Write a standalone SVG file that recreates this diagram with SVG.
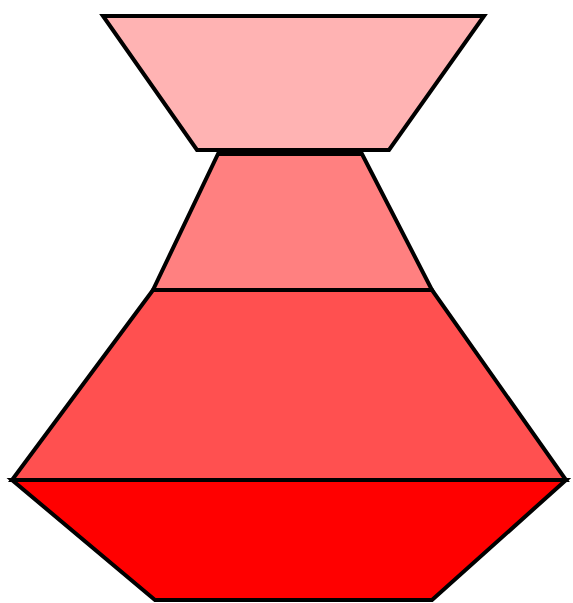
<svg xmlns="http://www.w3.org/2000/svg" width="573" height="603" viewBox="0 0 573 603">
<style>
.s{stroke:#000;stroke-width:4;stroke-linejoin:miter}
</style>
<rect width="573" height="603" fill="#fff"/>
<g id="layer1"><polygon class="s" fill="#ffb3b3" points="103,16 484,16 389,150 197,150"/></g>
<g id="layer2"><polygon class="s" fill="#ff8080" points="218,154 362,154 432,290 153,290"/></g>
<g id="layer3"><polygon class="s" fill="#ff5050" points="153,290 432,290 566,480 12,480"/></g>
<g id="layer4"><polygon class="s" fill="#ff0000" points="12,480 566,480 432,600 155,600"/></g>
</svg>
